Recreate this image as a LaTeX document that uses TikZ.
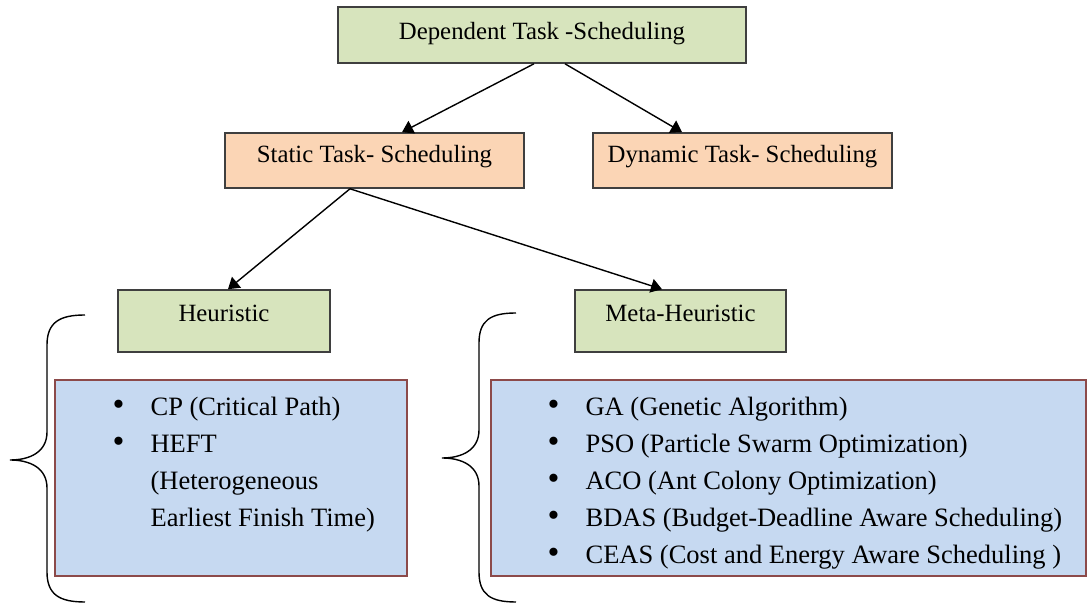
\documentclass[tikz,border=0pt]{standalone}
\usepackage{fontspec}
\setmainfont{Liberation Serif}
\usetikzlibrary{arrows.meta,positioning}
\definecolor{TaskGreen}{HTML}{D7E4BD}
\definecolor{TaskOrange}{HTML}{FBD5B5}
\definecolor{ListBlue}{HTML}{C6D9F1}
\definecolor{BoxEdge}{HTML}{3F3F3F}
\definecolor{ListEdge}{HTML}{8C4A4A}

\newcommand{\bulletitem}[1]{\makebox[19pt][l]{\fontsize{17}{18}\selectfont\textbullet}#1}
\newcommand{\itemcont}[1]{\hspace*{19pt}#1}

\begin{document}
\begin{tikzpicture}[
    x=0.5pt,y=-0.5pt,
    font=\fontsize{12.4}{18.4}\selectfont,
    basebox/.style={draw=BoxEdge,line width=0.8pt,inner sep=0pt,align=center},
    rootbox/.style={basebox,fill=TaskGreen,minimum width=204pt,minimum height=28pt,text height=8pt,text depth=3pt},
    kindbox/.style={basebox,fill=TaskOrange,minimum width=149.5pt,minimum height=27.5pt,text height=8pt,text depth=5.5pt},
    classbox/.style={basebox,fill=TaskGreen,minimum width=106pt,minimum height=31pt,text height=8pt,text depth=7pt},
    listbox/.style={draw=ListEdge,line width=0.8pt,fill=ListBlue,minimum height=98pt,inner sep=0pt},
    listtext/.style={anchor=north west,inner sep=0pt,align=left,font=\fontsize{13.25}{18.4}\selectfont},
    arrow/.style={-{Triangle[length=5.5pt,width=7pt]},line width=0.7pt,color=black}
  ]
    \useasboundingbox (0,0) rectangle (1088,603);
    % boxes
    \node[rootbox] (root) at (542,35) {Dependent Task -Scheduling};
    \node[kindbox] (static) at (374.5,160.5) {Static Task- Scheduling};
    \node[kindbox] (dynamic) at (742.5,160.5) {Dynamic Task- Scheduling};
    \node[classbox] (heur) at (224,321) {Heuristic};
    \node[classbox,minimum width=105.5pt] (meta) at (680.5,321) {Meta-Heuristic};
    \node[listbox,minimum width=176pt] (heurlist) at (231,478) {};
    \node[listbox,minimum width=297.5pt] (metalist) at (788.5,478) {};
    % list contents
    \node[listtext] (heuritems) at ([xshift=29pt,yshift=-9pt]heurlist.north west) {%
      \bulletitem{CP (Critical Path)}\\
      \bulletitem{HEFT}\\
      \itemcont{(Heterogeneous}\\
      \itemcont{Earliest Finish Time)}};
    \node[listtext] (metaitems) at ([xshift=28.5pt,yshift=-9pt]metalist.north west) {%
      \bulletitem{GA (Genetic Algorithm)}\\
      \bulletitem{PSO (Particle Swarm Optimization)}\\
      \bulletitem{ACO (Ant Colony Optimization)}\\
      \bulletitem{BDAS (Budget-Deadline Aware Scheduling)}\\
      \bulletitem{CEAS (Cost and Energy Aware Scheduling )}};
    % arrows
    \draw[arrow] ([xshift=-4pt]root.south) -- ([xshift=13.75pt]static.north);
    \draw[arrow] ([xshift=11.5pt]root.south) -- ([xshift=-30.25pt]dynamic.north);
    \draw[arrow] ([xshift=-12.25pt]static.south) -- ([xshift=2pt]heur.north);
    \draw[arrow] ([xshift=-12.25pt]static.south) -- ([xshift=-9.25pt]meta.north);
    % braces
    \draw[line width=0.7pt] (85,315) .. controls (60,315) and (47,322) .. (47,345) -- (47,432)
      .. controls (47,452) and (30,460) .. (10,460) .. controls (30,460) and (47,468) .. (47,488)
      -- (47,572) .. controls (47,595) and (60,602) .. (85,602);
    \draw[line width=0.7pt] (516,313) .. controls (491,313) and (479,320) .. (479,343) -- (479,430)
      .. controls (479,450) and (462,458) .. (442,458) .. controls (462,458) and (479,466) .. (479,486)
      -- (479,572) .. controls (479,595) and (491,602) .. (516,602);
\end{tikzpicture}
\end{document}
